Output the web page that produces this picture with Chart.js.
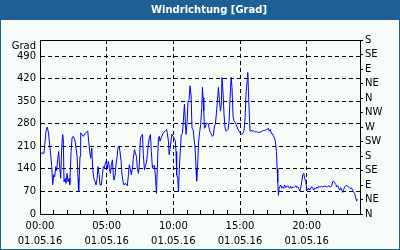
<!DOCTYPE html>
<html>
<head>
<meta charset="utf-8">
<title>Windrichtung</title>
<script src="https://cdn.jsdelivr.net/npm/chart.js@4/dist/chart.umd.min.js"></script>
<style>
  html, body { margin: 0; padding: 0; background: #1d6096; }
  #wrap { width: 400px; height: 250px; }
</style>
</head>
<body>
<div id="wrap"><canvas id="myChart" width="400" height="250"></canvas></div>
<script>
'use strict';

// ******* DATA *******
let chartTitle = 'Windrichtung [Grad]';
let unitLabel = 'Grad';
let dateLabel = '01.05.16';
let hourLabels = ['00:00', '05:00', '10:00', '15:00', '20:00'];
let compassLabels = ['N', 'NE', 'E', 'SE', 'S', 'SW', 'W', 'NW', 'N', 'NE', 'E', 'SE', 'S'];

// minutes after midnight
let minutes = [
  0, 18, 23, 27, 33, 38, 42, 48, 53, 57, 62, 66, 71, 75, 80, 84, 89, 93, 98, 102,
  105, 108, 113, 117, 122, 126, 131, 134, 140, 144, 149, 153, 158, 162, 167, 171, 174, 177, 180, 183,
  188, 195, 203, 210, 215, 219, 224, 228, 233, 237, 242, 248, 252, 257, 261, 266, 270, 276, 281, 285,
  290, 294, 299, 303, 308, 312, 317, 321, 326, 330, 333, 338, 342, 347, 351, 356, 360, 365, 369, 374,
  378, 383, 387, 393, 398, 402, 407, 411, 416, 420, 425, 429, 434, 438, 443, 447, 452, 456, 461, 465,
  470, 474, 479, 483, 488, 492, 497, 501, 506, 510, 515, 519, 524, 528, 533, 537, 540, 548, 555, 563,
  570, 573, 578, 581, 585, 593, 600, 605, 609, 612, 615, 620, 623, 627, 632, 636, 641, 645, 650, 654,
  657, 662, 666, 671, 675, 680, 684, 689, 693, 698, 702, 705, 710, 714, 719, 723, 728, 731, 734, 737,
  740, 744, 749, 753, 758, 762, 767, 771, 776, 780, 785, 789, 794, 798, 803, 807, 812, 816, 819, 824,
  828, 833, 837, 842, 846, 851, 855, 860, 864, 869, 873, 878, 882, 887, 891, 896, 900, 905, 909, 914,
  918, 923, 927, 932, 935, 938, 942, 945, 950, 954, 960, 968, 975, 983, 990, 998, 1005, 1013, 1020, 1028,
  1032, 1037, 1041, 1046, 1050, 1055, 1059, 1064, 1067, 1070, 1073, 1076, 1079, 1083, 1088, 1092, 1097, 1101, 1106, 1110,
  1115, 1119, 1124, 1128, 1133, 1137, 1142, 1146, 1151, 1155, 1160, 1164, 1169, 1173, 1178, 1182, 1187, 1191, 1196, 1200,
  1205, 1209, 1214, 1218, 1223, 1227, 1232, 1236, 1241, 1245, 1250, 1254, 1259, 1263, 1268, 1272, 1277, 1281, 1286, 1290,
  1295, 1299, 1304, 1308, 1313, 1317, 1322, 1326, 1331, 1335, 1340, 1344, 1349, 1353, 1358, 1362, 1367, 1371, 1376, 1380,
  1385, 1389, 1394, 1398, 1402, 1407, 1411, 1416, 1420, 1425, 1428
];

// wind direction in degrees
let grad = [
  189, 189, 226, 257, 270, 252, 226, 185, 147, 91, 122, 115, 147, 135, 173, 194, 142, 111, 210, 247,
  230, 100, 110, 95, 126, 100, 110, 91, 194, 236, 241, 236, 226, 205, 179, 111, 69, 122, 179, 252,
  247, 241, 250, 255, 257, 226, 194, 173, 205, 142, 111, 100, 90, 111, 147, 122, 90, 90, 122, 147,
  142, 158, 166, 142, 163, 142, 126, 153, 168, 121, 105, 121, 153, 179, 205, 210, 194, 163, 121, 100,
  90, 95, 93, 88, 122, 153, 137, 122, 142, 173, 200, 190, 179, 142, 126, 153, 236, 241, 247, 184,
  137, 147, 160, 184, 220, 236, 247, 194, 142, 150, 150, 121, 64, 142, 236, 241, 226, 241, 252, 257,
  262, 250, 226, 184, 200, 247, 240, 232, 226, 194, 121, 111, 69, 142, 205, 247, 250, 289, 341, 289,
  247, 283, 351, 355, 398, 367, 267, 262, 236, 205, 142, 102, 163, 226, 257, 278, 330, 393, 361, 320,
  266, 270, 283, 280, 280, 262, 252, 248, 241, 244, 273, 278, 314, 346, 393, 356, 320, 341, 424, 372,
  309, 267, 257, 259, 262, 289, 356, 424, 393, 299, 289, 285, 278, 270, 262, 257, 252, 250, 247, 252,
  259, 299, 372, 414, 439, 382, 309, 257, 259, 257, 259, 255, 255, 253, 254, 257, 259, 260, 262, 266,
  257, 262, 249, 249, 242, 236, 226, 194, 142, 100, 58, 80, 80, 90, 80, 85, 80, 90, 82, 84,
  88, 82, 80, 86, 80, 84, 82, 84, 88, 82, 84, 80, 71, 80, 100, 121, 126, 111, 100, 80,
  74, 80, 74, 80, 85, 80, 74, 80, 78, 84, 80, 86, 84, 84, 86, 84, 86, 86, 86, 84,
  84, 88, 84, 84, 87, 100, 102, 97, 92, 84, 88, 80, 74, 82, 74, 67, 77, 84, 88, 88,
  86, 84, 82, 78, 80, 74, 69, 64, 53, 40, 46
];

// ******* STYLE *******
let frameBlue = '#1d6096';
let panelColor = '#f8fcf8';
let lineBlue = '#0000ff';
let fontFamily = '"DejaVu Sans", Verdana, sans-serif';

// ******* HELPERS *******
let points = [];
for (let i = 0; i < minutes.length; i++) {
  points.push({ x: minutes[i], y: grad[i] });
}

function xLabel(value) {
  if (value % 300 === 0 && value < 1440) {
    return [hourLabels[value / 300], dateLabel];
  }
  return '';
}

// frame, title bar, plot border, inner hour ticks, unit label
let framePlugin = {
  id: 'frame',
  beforeDraw(chart) {
    let ctx = chart.ctx;
    ctx.save();
    ctx.fillStyle = frameBlue;
    ctx.fillRect(0, 0, chart.width, chart.height);
    ctx.fillStyle = panelColor;
    ctx.fillRect(1, 20, chart.width - 2, chart.height - 21);
    ctx.fillStyle = '#ffffff';
    ctx.font = 'bold 10px ' + fontFamily;
    ctx.textAlign = 'center';
    ctx.textBaseline = 'middle';
    ctx.fillText(chartTitle, 209, 10);
    ctx.restore();
  },
  afterDraw(chart) {
    let ctx = chart.ctx;
    let a = chart.chartArea;
    let xs = chart.scales.x;
    ctx.save();
    ctx.strokeStyle = '#000000';
    ctx.lineWidth = 1;
    ctx.beginPath();
    xs.ticks.forEach(function (t) {
      let px = Math.round(xs.getPixelForValue(t.value)) + 0.5;
      ctx.moveTo(px, Math.round(a.bottom));
      ctx.lineTo(px, Math.round(a.bottom) - 4);
    });
    ctx.stroke();
    ctx.strokeRect(Math.round(a.left) + 0.5, Math.round(a.top) + 0.5,
      Math.round(a.right) - Math.round(a.left), Math.round(a.bottom) - Math.round(a.top));
    ctx.fillStyle = '#000000';
    ctx.font = '10px ' + fontFamily;
    ctx.textAlign = 'right';
    ctx.textBaseline = 'middle';
    ctx.fillText(unitLabel, a.left - 4, 46);
    ctx.restore();
  }
};

// ******* CHART *******
let canvasElem = document.getElementById('myChart').getContext('2d');

let myChartObj = {
  type: 'line',
  data: {
    datasets: [{
      data: points,
      borderColor: lineBlue,
      borderWidth: 1,
      pointRadius: 0,
      tension: 0,
      fill: false
    }]
  },
  options: {
    responsive: false,
    animation: false,
    events: [],
    layout: { padding: { top: 40, left: 0, right: 0, bottom: 0 } },
    plugins: {
      legend: { display: false },
      title: { display: false },
      tooltip: { enabled: false }
    },
    scales: {
      x: {
        type: 'linear',
        min: 0,
        max: 1440,
        afterFit: function (scale) { scale.height = 36; },
        ticks: {
          stepSize: 60,
          autoSkip: false,
          maxRotation: 0,
          padding: 5,
          color: '#000000',
          font: { family: fontFamily, size: 10, lineHeight: 1.5 },
          callback: xLabel
        },
        grid: {
          drawTicks: false,
          lineWidth: 1,
          color: function (ctx) {
            let v = ctx.tick ? ctx.tick.value : 0;
            return (v % 300 === 0 && v > 0 && v < 1440) ? '#000000' : 'rgba(0,0,0,0)';
          }
        },
        border: { display: true, color: '#000000', dash: [4, 3] }
      },
      y: {
        position: 'left',
        min: 0,
        max: 540,
        afterFit: function (scale) { scale.width = 40; },
        ticks: {
          stepSize: 70,
          includeBounds: false,
          autoSkip: false,
          padding: 4,
          color: '#000000',
          font: { family: fontFamily, size: 10 }
        },
        grid: {
          drawTicks: false,
          color: function (ctx) {
            let v = ctx.tick ? ctx.tick.value : 0;
            return (v > 0 && v < 540) ? '#000000' : 'rgba(0,0,0,0)';
          }
        },
        border: { display: true, color: '#000000', dash: [4, 3] }
      },
      y2: {
        position: 'right',
        min: 0,
        max: 540,
        afterFit: function (scale) { scale.width = 40; },
        ticks: {
          stepSize: 45,
          autoSkip: false,
          padding: 2,
          color: '#000000',
          font: { family: fontFamily, size: 10 },
          callback: function (value) { return compassLabels[Math.round(value / 45)]; }
        },
        grid: {
          drawOnChartArea: false,
          drawTicks: true,
          tickLength: 3,
          tickColor: '#000000'
        },
        border: { display: true, color: '#000000' }
      }
    }
  },
  plugins: [framePlugin]
};

new Chart(canvasElem, myChartObj);
</script>
</body>
</html>
